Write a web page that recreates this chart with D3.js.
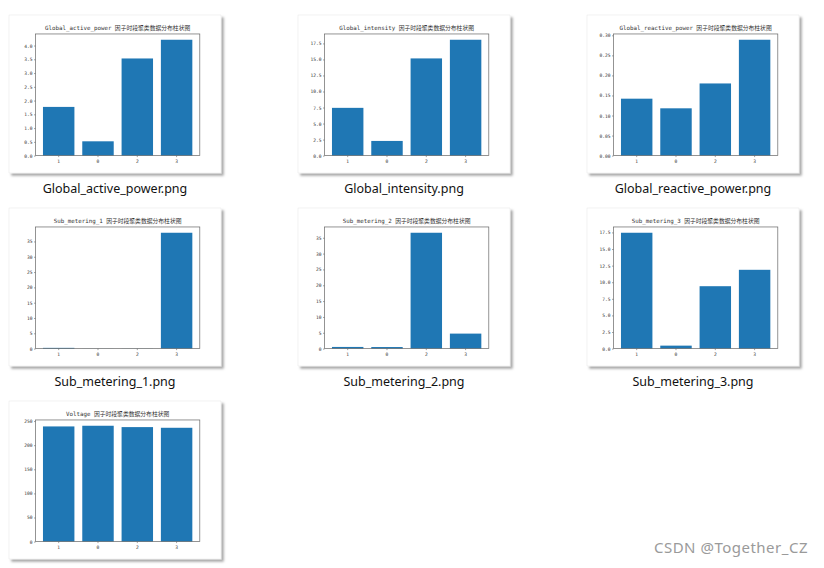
<!DOCTYPE html>
<html>
<head>
<meta charset="utf-8">
<script src="https://cdn.jsdelivr.net/npm/d3@7"></script>
<style>
	body { margin: 0; background: #ffffff; }
	svg { display: block; }
</style>
</head>
<body>
<svg id="vis"></svg>
<script>
// categories (cluster labels, in the order they were plotted)
var categories = ["1", "0", "2", "3"];

// one series per factor
var activePower   = [1.77, 0.52, 3.53, 4.21];
var intensity     = [7.45, 2.29, 15.16, 18.07];
var reactivePower = [0.142, 0.118, 0.180, 0.289];
var subMetering1  = [0.25, 0.02, 0.03, 37.84];
var subMetering2  = [0.53, 0.50, 36.58, 4.74];
var subMetering3  = [17.45, 0.45, 9.40, 11.87];
var voltage       = [238.9, 240.3, 237.5, 236.1];

// tick labels for each y axis
var ticksActive    = [0, 0.5, 1, 1.5, 2, 2.5, 3, 3.5, 4];
var ticksIntensity = [0, 2.5, 5, 7.5, 10, 12.5, 15, 17.5];
var ticksReactive  = [0, 0.05, 0.10, 0.15, 0.20, 0.25, 0.30];
var ticksSub       = [0, 5, 10, 15, 20, 25, 30, 35];
var ticksSub3      = [0, 2.5, 5, 7.5, 10, 12.5, 15, 17.5];
var ticksVoltage   = [0, 50, 100, 150, 200, 250];

var names = ["Global_active_power", "Global_intensity", "Global_reactive_power",
	"Sub_metering_1", "Sub_metering_2", "Sub_metering_3", "Voltage"];
var series = [activePower, intensity, reactivePower, subMetering1, subMetering2, subMetering3, voltage];
var tickSets = [ticksActive, ticksIntensity, ticksReactive, ticksSub, ticksSub, ticksSub3, ticksVoltage];
var tickFormats = [".1f", ".1f", ".2f", "d", "d", ".1f", "d"];

var W = 824, H = 568;
var svg = d3.select("svg#vis").attr("width", W).attr("height", H);

svg.append("rect").attr("width", W).attr("height", H).attr("fill", "#ffffff");

// card shadow
var defs = svg.append("defs");
var f = defs.append("filter").attr("id", "shadow")
	.attr("x", "-5%").attr("y", "-5%").attr("width", "115%").attr("height", "115%");
f.append("feDropShadow")
	.attr("dx", 2.5).attr("dy", 2.5).attr("stdDeviation", 1.3)
	.attr("flood-color", "#000").attr("flood-opacity", 0.35);

var cardW = 212, cardH = 158;
var monoFont = "'DejaVu Sans Mono', 'Noto Sans CJK SC', monospace";

names.forEach(function(name, i) {
	var col = i % 3, row = Math.floor(i / 3);
	var cx = 9 + col * 289, cy = 15 + row * 193;
	var values = series[i];

	var card = svg.append("g").attr("transform", "translate(" + cx + "," + cy + ")");

	card.append("rect")
		.attr("width", cardW).attr("height", cardH)
		.attr("fill", "#ffffff")
		.attr("stroke", "#e6e6e6").attr("stroke-width", 0.5)
		.attr("filter", "url(#shadow)");

	// matplotlib default subplot params
	var left = cardW * 0.125, right = cardW * 0.9;
	var top = cardH * 0.12, bottom = cardH * 0.89;

	var x = d3.scaleBand()
		.domain(categories)
		.range([left, right])
		.paddingInner(0.2)
		.paddingOuter(0.19);

	var y = d3.scaleLinear()
		.domain([0, d3.max(values) * 1.05])
		.range([bottom, top]);

	card.selectAll("rect.bar").data(values).enter().append("rect")
		.attr("class", "bar")
		.attr("x", function(d, j) { return x(categories[j]); })
		.attr("width", x.bandwidth())
		.attr("y", function(d) { return y(d); })
		.attr("height", function(d) { return bottom - y(d); })
		.attr("fill", "#1f77b4");

	// axes
	var yAxis = card.append("g")
		.attr("transform", "translate(" + left + ",0)")
		.call(d3.axisLeft(y).tickValues(tickSets[i]).tickFormat(d3.format(tickFormats[i]))
			.tickSize(1.5).tickPadding(1.5));
	var xAxis = card.append("g")
		.attr("transform", "translate(0," + bottom + ")")
		.call(d3.axisBottom(x).tickSize(1.5).tickPadding(2.5));

	[xAxis, yAxis].forEach(function(a) {
		a.select(".domain").remove();
		a.selectAll("line").attr("stroke", "#444").attr("stroke-width", 0.5);
		a.selectAll("text")
			.attr("fill", "#333")
			.style("font-family", monoFont)
			.style("font-size", "4.6px");
	});

	// frame (spines)
	card.append("rect")
		.attr("x", left).attr("y", top)
		.attr("width", right - left).attr("height", bottom - top)
		.attr("fill", "none")
		.attr("stroke", "#666").attr("stroke-width", 0.7);

	card.append("text")
		.text(name + " 因子时段聚类数据分布柱状图")
		.attr("x", (left + right) / 2)
		.attr("y", top - 6)
		.attr("text-anchor", "middle")
		.attr("dominant-baseline", "middle")
		.attr("fill", "#333")
		.style("font-family", monoFont)
		.style("font-size", "5.8px");

	// file name caption under the card (the last row's caption falls below the window)
	if (cy + cardH + 17 < H - 8) {
		svg.append("text")
			.text(name + ".png")
			.attr("x", cx + cardW / 2)
			.attr("y", cy + cardH + 17)
			.attr("text-anchor", "middle")
			.attr("dominant-baseline", "middle")
			.attr("fill", "#111")
			.style("font-family", "'Noto Sans', 'Noto Sans CJK SC', sans-serif")
			.style("font-size", "12.5px");
	}
});

// watermark
svg.append("text")
	.text("CSDN @Together_CZ")
	.attr("x", 808)
	.attr("y", 549)
	.attr("text-anchor", "end")
	.attr("dominant-baseline", "middle")
	.attr("fill", "#9a9a9a")
	.style("font-family", "'Noto Sans', sans-serif")
	.style("font-size", "15px")
	.style("letter-spacing", "0.5px");
</script>
</body>
</html>
